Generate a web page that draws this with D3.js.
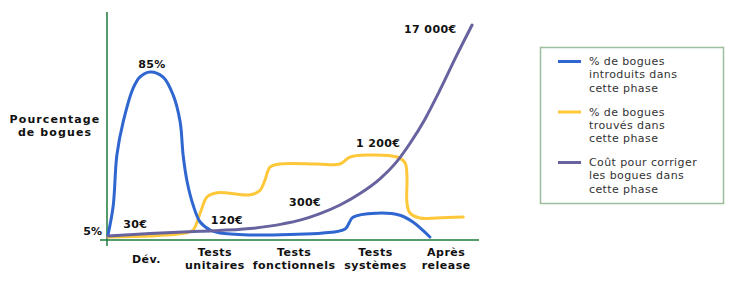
<!DOCTYPE html>
<html>
<head>
<meta charset="utf-8">
<script src="https://cdn.jsdelivr.net/npm/d3@7"></script>
<style>
  body { margin: 0; background: #fff; }
  svg { display: block; font-family: "DejaVu Sans", Verdana, sans-serif; }
</style>
</head>
<body>
<div id="chart"></div>
<script>
// phases along the timeline (x in 0..100 units)
const phases = [
  { lines: ["Dév."], x: 10.4 },
  { lines: ["Tests", "unitaires"], x: 28.9 },
  { lines: ["Tests", "fonctionnels"], x: 50.3 },
  { lines: ["Tests", "systèmes"], x: 72.3 },
  { lines: ["Après", "release"], x: 91.4 }
];

// % of bugs introduced in each phase
const introduced = [
  [0, 5.4], [1.4, 19.5], [2.4, 44.4], [4.1, 60.5], [6.8, 77], [8.6, 82.4],
  [11.4, 84.9], [14.9, 82.4], [17.6, 73.7], [19.5, 60.5], [20.3, 44.4],
  [21.4, 31.2], [23, 20], [24.9, 11.7], [27.6, 7.8], [30.3, 6.3],
  [38.4, 5.4], [49.2, 5.6], [58.1, 6.3], [64.1, 8.3], [66.2, 14],
  [72.7, 16], [78.9, 15], [82.4, 11.7], [87, 4.4]
];

// % of bugs found in each phase
const found = [
  [0, 4.4], [11.4, 4.9], [20.8, 6.3], [23, 7.8], [24.9, 16], [26.8, 24],
  [29.5, 26], [38.4, 25], [41, 27], [42.4, 32], [43.8, 38.5], [46.5, 40],
  [56.5, 40], [62.7, 40], [65.4, 43.4], [70.3, 44.4], [78.1, 43.4],
  [80.3, 40.5], [80.8, 33.7], [80.8, 21], [81.6, 16.1], [84.3, 13.7],
  [88.9, 13.7], [96, 14.1]
];

// cost to fix the bugs in each phase
const cost = [
  [0, 4.9], [11.4, 6.1], [24.9, 7.2], [38.4, 8.5], [47.3, 10.8], [51.9, 12.6],
  [57.3, 15.8], [62.7, 20], [68.1, 25.6], [73.5, 32.8], [78.1, 41.3],
  [81.6, 50], [85.7, 62], [89.7, 76], [94.3, 93.2], [98.4, 107.8]
];

// value labels drawn on the chart
const labels = [
  { text: "85%", x: 11.9, y: 87, anchor: "middle" },
  { text: "30€", x: 4.1, y: 9, anchor: "start" },
  { text: "120€", x: 27.8, y: 10.5, anchor: "start" },
  { text: "300€", x: 48.9, y: 19.5, anchor: "start" },
  { text: "1 200€", x: 67, y: 48.3, anchor: "start" },
  { text: "17 000€", x: 80, y: 104, anchor: "start" }
];

const legendItems = [
  { color: "#2f66d0", lines: ["% de bogues", "introduits dans", "cette phase"] },
  { color: "#ffc83a", lines: ["% de bogues", "trouvés dans", "cette phase"] },
  { color: "#67639e", lines: ["Coût pour corriger", "les bogues dans", "cette phase"] }
];

const width = 739, height = 281;
const svg = d3.select("#chart").append("svg")
  .attr("width", width)
  .attr("height", height);

const x = d3.scaleLinear().domain([0, 100]).range([108, 478]);
const y = d3.scaleLinear().domain([0, 100]).range([246, 41]);

const axisColor = "#1d7a3a";

// axes without ticks
svg.append("line")
  .attr("x1", 107).attr("x2", 107).attr("y1", 12).attr("y2", 246)
  .attr("stroke", axisColor).attr("stroke-width", 1.5);
svg.append("line")
  .attr("x1", 100).attr("x2", 479).attr("y1", 240).attr("y2", 240)
  .attr("stroke", axisColor).attr("stroke-width", 1.5);

const line = d3.line()
  .x(d => x(d[0]))
  .y(d => y(d[1]))
  .curve(d3.curveCatmullRom.alpha(0.5));

// the cost curve is smoother
const smooth = d3.line()
  .x(d => x(d[0]))
  .y(d => y(d[1]))
  .curve(d3.curveMonotoneX);

svg.append("path").datum(found)
  .attr("d", line).attr("fill", "none")
  .attr("stroke", "#ffc83a").attr("stroke-width", 3).attr("stroke-linecap", "round");

svg.append("path").datum(introduced)
  .attr("d", line).attr("fill", "none")
  .attr("stroke", "#2f66d0").attr("stroke-width", 3).attr("stroke-linecap", "round");

svg.append("path").datum(cost)
  .attr("d", smooth).attr("fill", "none")
  .attr("stroke", "#67639e").attr("stroke-width", 3).attr("stroke-linecap", "round");

// value labels
svg.selectAll(".val")
  .data(labels)
  .join("text")
  .attr("class", "val")
  .attr("x", d => x(d.x))
  .attr("y", d => y(d.y))
  .attr("text-anchor", d => d.anchor)
  .attr("font-size", 11)
  .attr("font-weight", "bold")
  .attr("letter-spacing", 0.4)
  .attr("fill", "#111")
  .text(d => d.text);

svg.append("text")
  .attr("x", 102).attr("y", 235)
  .attr("text-anchor", "end")
  .attr("font-size", 11).attr("font-weight", "bold").attr("fill", "#111")
  .text("5%");

// y title
const yTitle = svg.append("text")
  .attr("text-anchor", "middle")
  .attr("font-size", 11).attr("font-weight", "bold")
  .attr("letter-spacing", 1.1).attr("fill", "#111");
yTitle.append("tspan").attr("x", 55).attr("y", 123).text("Pourcentage");
yTitle.append("tspan").attr("x", 55).attr("y", 136).text("de bogues");

// phase labels
svg.selectAll(".phase")
  .data(phases)
  .join("text")
  .attr("class", "phase")
  .attr("text-anchor", "middle")
  .attr("font-size", 11)
  .attr("font-weight", "bold")
  .attr("letter-spacing", 0.5)
  .attr("fill", "#111")
  .each(function(d) {
    const t = d3.select(this);
    const y0 = d.lines.length === 1 ? 263 : 256;
    d.lines.forEach((l, i) => {
      t.append("tspan").attr("x", x(d.x)).attr("y", y0 + i * 13).text(l);
    });
  });

// legend
svg.append("rect")
  .attr("x", 540.5).attr("y", 47.5)
  .attr("width", 183).attr("height", 156)
  .attr("fill", "#fff")
  .attr("stroke", "#9dbf9f").attr("stroke-width", 1.5);

const leg = svg.selectAll(".leg")
  .data(legendItems)
  .join("g")
  .attr("class", "leg")
  .attr("transform", (d, i) => `translate(0,${i * 50.5})`);

leg.append("line")
  .attr("x1", 558).attr("x2", 581).attr("y1", 61.5).attr("y2", 61.5)
  .attr("stroke", d => d.color).attr("stroke-width", 3);

leg.append("text")
  .attr("font-size", 11)
  .attr("letter-spacing", 0.4)
  .attr("fill", "#333")
  .each(function(d) {
    const t = d3.select(this);
    d.lines.forEach((l, i) => {
      t.append("tspan").attr("x", 589).attr("y", 65 + i * 13.3).text(l);
    });
  });
</script>
</body>
</html>
